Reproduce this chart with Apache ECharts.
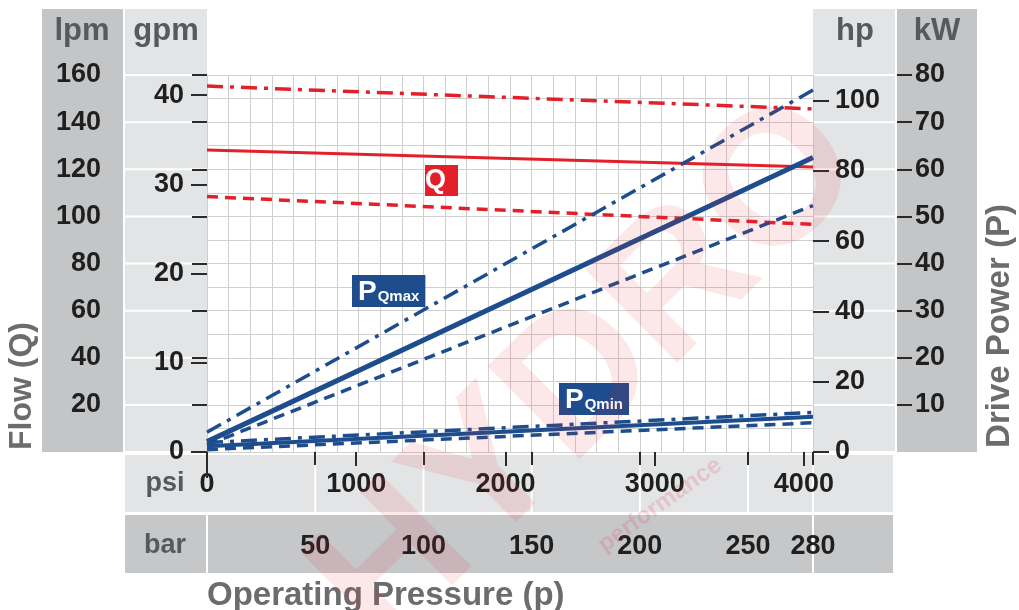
<!DOCTYPE html>
<html><head><meta charset="utf-8">
<script src="https://cdn.jsdelivr.net/npm/echarts@6/dist/echarts.min.js"></script>
<style>html,body{margin:0;padding:0;background:#fff}#c{width:1019px;height:610px}</style>
</head><body><div id="c"></div>
<script>
// ---- data ----
const pressureBar = [0, 280];                 // x positions (bar)
const qDashDot   = [155.3, 145.6];            // Flow, lpm
const qSolid     = [128.2, 121.0];
const qDashed    = [108.4, 96.6];
const pMaxDashDot = [4.2, 76.8];              // Drive power, kW
const pMaxSolid   = [2.2, 62.5];
const pMaxDashed  = [1.5, 52.3];
const pMinDashDot = [2.0, 8.4];
const pMinSolid   = [1.2, 7.5];
const pMinDashed  = [0.5, 6.2];
const psiTicks = [0, 1000, 2000, 3000, 4000];
const barTicks = [50, 100, 150, 200, 250, 280];
const lpmTicks = [20, 40, 60, 80, 100, 120, 140, 160];
const gpmTicks = [0, 10, 20, 30, 40];
const hpTicks  = [0, 20, 40, 60, 80, 100];
const kwTicks  = [10, 20, 30, 40, 50, 60, 70, 80];

const PSI_PER_BAR = 14.5038, LPM_PER_GPM = 3.78541, KW_PER_HP = 0.7457;
const RED = '#e3202a', BLUE = '#1d4d8c';
const FONT = 'Liberation Sans';
const pts = arr => pressureBar.map((x, i) => [x, arr[i]]);

const chart = echarts.init(document.getElementById('c'), null, {renderer: 'canvas'});
const lbl = {fontFamily: FONT, fontWeight: 'bold', fontSize: 27, color: '#1f1f1f', formatter: v => String(Math.round(v))};
const tick = (len) => ({show: true, inside: false, length: len, lineStyle: {color: '#2a2a2a', width: 2}});

function line(data, yIdx, color, width, type, z) {
  return {type: 'line', data: pts(data), xAxisIndex: 0, yAxisIndex: yIdx, symbol: 'none', silent: true,
    z: z || 3, lineStyle: {color, width, type, cap: 'butt'}};
}

chart.setOption({
  animation: false,
  textStyle: {fontFamily: FONT},
  grid: {left: 207, top: 75, width: 606, height: 377, show: false},
  xAxis: [
    {type: 'value', min: 0, max: 280, interval: 10, axisLine: {show: false}, axisTick: {show: false},
      axisLabel: {show: false}, splitLine: {show: true, lineStyle: {color: '#cfcfcf', width: 1}}},
    {type: 'value', position: 'bottom', offset: 3, min: 0, max: 280 * PSI_PER_BAR, axisLine: {show: false},
      axisTick: Object.assign(tick(14), {customValues: psiTicks}),
      axisLabel: Object.assign({margin: 16, customValues: psiTicks}, lbl), splitLine: {show: false}},
    {type: 'value', position: 'bottom', offset: 65, min: 0, max: 280, axisLine: {show: false},
      axisTick: Object.assign(tick(13), {customValues: barTicks}),
      axisLabel: Object.assign({margin: 16, customValues: barTicks}, lbl), splitLine: {show: false}}
  ],
  yAxis: [
    {type: 'value', position: 'left', offset: 85, min: 0, max: 160, axisLine: {show: false},
      axisTick: Object.assign(tick(15), {customValues: lpmTicks}),
      axisLabel: Object.assign({margin: 21, customValues: lpmTicks}, lbl), splitLine: {show: false}},
    {type: 'value', position: 'left', offset: 0, min: 0, max: 160 / LPM_PER_GPM, axisLine: {show: false},
      axisTick: Object.assign(tick(16), {customValues: gpmTicks}),
      axisLabel: Object.assign({margin: 23, customValues: gpmTicks}, lbl), splitLine: {show: false}},
    {type: 'value', position: 'left', min: 0, max: 160, interval: 10, axisLine: {show: true, lineStyle: {color: '#cfcfcf', width: 1}},
      axisTick: {show: false}, axisLabel: {show: false}, splitLine: {show: true, lineStyle: {color: '#cfcfcf', width: 1}}},
    {type: 'value', position: 'right', offset: 0, min: 0, max: 80 / KW_PER_HP, axisLine: {show: false},
      axisTick: Object.assign(tick(16), {customValues: hpTicks}),
      axisLabel: Object.assign({margin: 22, customValues: hpTicks}, lbl), splitLine: {show: false}},
    {type: 'value', position: 'right', offset: 84, min: 0, max: 80, axisLine: {show: false},
      axisTick: Object.assign(tick(15), {customValues: kwTicks}),
      axisLabel: Object.assign({margin: 18, customValues: kwTicks}, lbl), splitLine: {show: false}}
  ],
  series: [
    line(qDashDot, 0, RED, 3.5, [16, 7, 4, 7]),
    line(qSolid, 0, RED, 3, 'solid'),
    line(qDashed, 0, RED, 3.5, [11, 7]),
    line(pMaxDashDot, 4, BLUE, 3.5, [16, 7, 4, 7]),
    line(pMaxSolid, 4, BLUE, 5, 'solid', 4),
    line(pMaxDashed, 4, BLUE, 3.5, [11, 7]),
    line(pMinDashDot, 4, BLUE, 3.5, [16, 7, 4, 7]),
    line(pMinSolid, 4, BLUE, 4, 'solid', 4),
    line(pMinDashed, 4, BLUE, 3.5, [11, 7])
  ]
});

// ---- decorations: panels, headers, titles, labels ----
const yL = v => chart.convertToPixel({yAxisIndex: 0}, v);
const yK = v => chart.convertToPixel({yAxisIndex: 4}, v);
const xB = v => chart.convertToPixel({xAxisIndex: 0}, v);
const xP = v => chart.convertToPixel({xAxisIndex: 1}, v);

const LIGHT = '#e3e4e5', DARK = '#c3c5c7';
const g = [];
const rect = (x, y, w, h, fill) => g.push({type: 'rect', silent: true, z: -10, shape: {x, y, width: w, height: h}, style: {fill}});
const seg = (x1, y1, x2, y2, stroke, w, z) => g.push({type: 'line', silent: true, z: z == null ? -9 : z, shape: {x1, y1, x2, y2}, style: {stroke, lineWidth: w}});
const txt = (x, y, text, size, color, opts) => g.push(Object.assign({type: 'text', silent: true, z: 20, x, y,
  style: Object.assign({text, fontFamily: FONT, fontWeight: 'bold', fontSize: size, fill: color, align: 'center', verticalAlign: 'middle'}, (opts && opts.style) || {})},
  opts && opts.rot != null ? {rotation: opts.rot} : {}));

rect(42, 9, 81, 443, DARK);     // lpm
rect(125, 9, 82, 443, LIGHT);   // gpm
rect(813, 9, 82, 443, LIGHT);   // hp
rect(897, 9, 80, 443, DARK);    // kW
rect(125, 455, 768, 57, LIGHT); // psi row
rect(125, 515, 768, 58, '#c6c7c9'); // bar row
[0, 20, 40, 60, 80, 100, 120, 140, 160].forEach(v => seg(125, yL(v), 207, yL(v), '#ffffff', 2));
[0, 10, 20, 30, 40, 50, 60, 70, 80].forEach(v => seg(813, yK(v), 895, yK(v), '#ffffff', 2));
[50, 100, 150, 200, 250].forEach(v => seg(xB(v), 455, xB(v), 512, '#ffffff', 2));
seg(xB(0), 515, xB(0), 573, '#ffffff', 2);
seg(xB(280), 455, xB(280), 573, '#ffffff', 2);
seg(xP(0), 452, xP(0), 478, '#2a2a2a', 2, 5);

txt(82, 31, 'lpm', 31, '#58595b');
txt(166, 31, 'gpm', 31, '#58595b');
txt(855, 31, 'hp', 31, '#58595b');
txt(937, 31, 'kW', 31, '#58595b');
txt(165, 484, 'psi', 27, '#58595b');
txt(165, 546, 'bar', 27, '#58595b');
txt(22, 386, 'Flow (Q)', 32, '#6b6c6e', {rot: Math.PI / 2});
txt(1000, 326, 'Drive Power (P)', 33, '#6b6c6e', {rot: Math.PI / 2});
txt(207, 596, 'Operating Pressure (p)', 33, '#6b6c6e', {style: {align: 'left'}});

// curve labels
g.push({type: 'text', silent: true, z: 20, x: 425, y: 165, style: {text: 'Q', fontFamily: FONT, fontWeight: 'bold', fontSize: 27,
  fill: '#fff', backgroundColor: RED, width: 33, height: 31, align: 'left', verticalAlign: 'top', lineHeight: 31}});
const pBox = (x, y, sub) => g.push({type: 'text', silent: true, z: 20, x, y, style: {
  text: '{p|P}{s|' + sub + '}', backgroundColor: BLUE, padding: [1, 6, 1, 6], align: 'left', verticalAlign: 'top',
  rich: {p: {fontFamily: FONT, fontWeight: 'bold', fontSize: 28, fill: '#fff', lineHeight: 30, verticalAlign: 'bottom'},
         s: {fontFamily: FONT, fontWeight: 'bold', fontSize: 15, fill: '#fff', lineHeight: 30, verticalAlign: 'bottom', padding: [0, 0, 2, 1]}}}});
pBox(352, 275, 'Qmax');
pBox(559, 383, 'Qmin');

// faint watermark
g.push({type: 'text', silent: true, z: 30, x: 590, y: 375, rotation: 0.78, style: {text: 'HYDRO', fontFamily: FONT,
  fontWeight: 'bold', fontSize: 190, fill: 'rgba(228,40,55,0.11)', align: 'center', verticalAlign: 'middle'}});
g.push({type: 'text', silent: true, z: 30, x: 660, y: 505, rotation: 0.62, style: {text: 'performance', fontFamily: FONT,
  fontWeight: 'bold', fontSize: 24, fill: 'rgba(228,40,55,0.16)', align: 'center', verticalAlign: 'middle'}});

chart.setOption({graphic: {elements: g}});
</script></body></html>
